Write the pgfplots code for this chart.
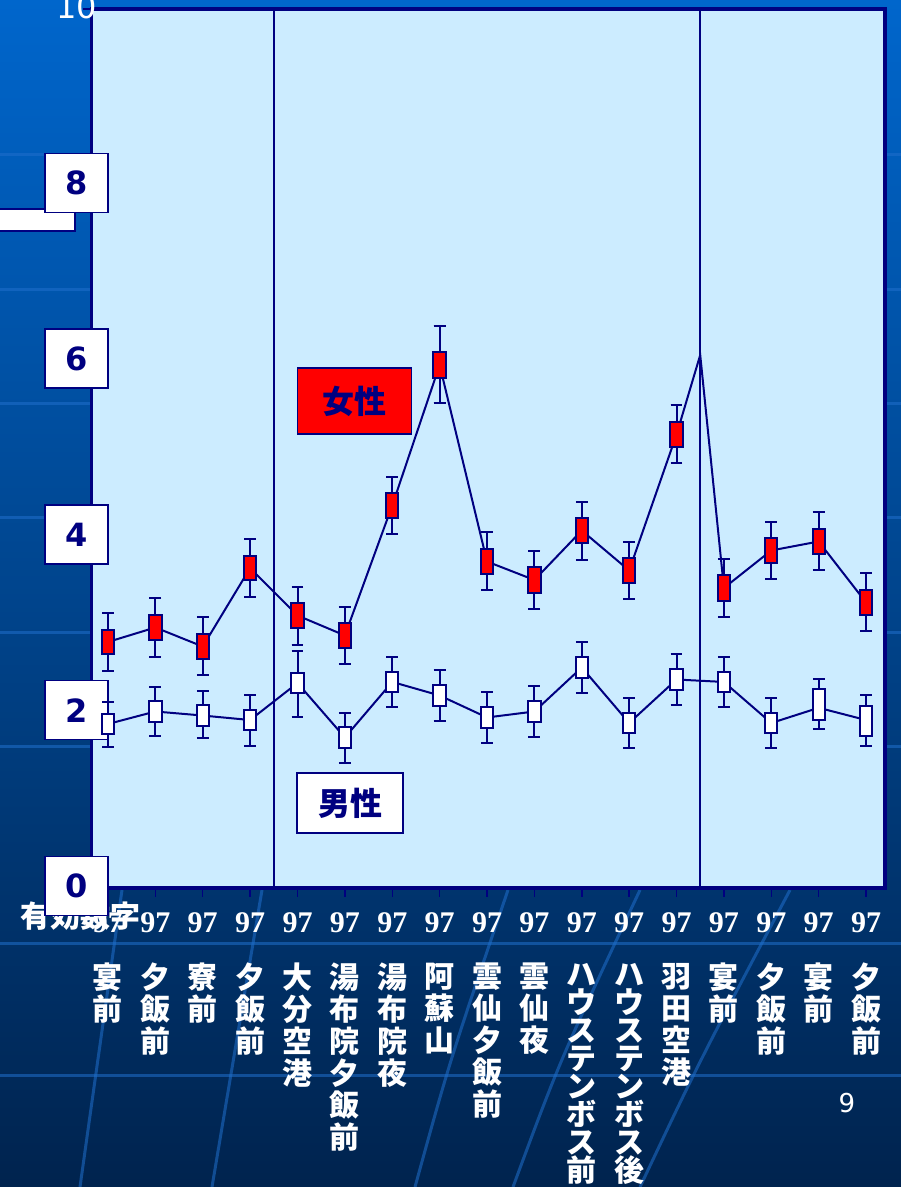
\documentclass[border=0pt]{standalone}
\usepackage{pgfplots}
\pgfplotsset{compat=1.18}
\usepgfplotslibrary{statistics}
\usepackage{fontspec}
\setmainfont{DejaVu Sans}
\newfontfamily\numfont{DejaVu Sans}
\newfontfamily\serfont{Liberation Serif}
\newfontfamily\cjk{Noto Sans CJK JP}
\definecolor{navy}{HTML}{000080}
\definecolor{plotbg}{HTML}{CCECFF}
\definecolor{bgtop}{HTML}{0066CC}
\definecolor{bgmid}{HTML}{004A98}
\definecolor{bgbot}{HTML}{00234E}
\definecolor{deco}{HTML}{1F6FCC}
% box macros: position, lower whisker, lower box, upper box, upper whisker
\newcommand{\fbx}[5]{\addplot[draw=navy, fill=red, line width=2pt,
  boxplot prepared={draw direction=y, draw position=#1, lower whisker=#2, lower quartile=#3,
  median=#4, upper quartile=#4, upper whisker=#5, box extend=0.26, whisker extend=0.25}] coordinates {};}
\newcommand{\mbx}[5]{\addplot[draw=navy, fill=white, line width=2pt,
  boxplot prepared={draw direction=y, draw position=#1, lower whisker=#2, lower quartile=#3,
  median=#4, upper quartile=#4, upper whisker=#5, box extend=0.26, whisker extend=0.25}] coordinates {};}
\begin{document}
\begin{tikzpicture}[x=1pt, y=1pt]
\useasboundingbox (0,0) rectangle (901,1187);
\clip (0,0) rectangle (901,1187);
\shade[top color=bgtop, middle color=bgmid, bottom color=bgbot] (0,0) rectangle (901,1187);
\begin{scope}[draw=deco, opacity=0.55, line width=3pt]
\foreach \yy in {155,290,404,518,633,747,944,1076} {\draw (0,1187-\yy) -- (901,1187-\yy);}
\draw (80,0) .. controls (95,107) .. (122,297);
\draw (212,0) .. controls (230,107) .. (262,297);
\draw (415,0) .. controls (450,127) .. (508,297);
\draw (513,0) .. controls (560,127) .. (640,297);
\draw (640,0) .. controls (700,127) .. (790,297);
\end{scope}
\node[text=white, font=\cjk\bfseries\fontsize{30}{30}\selectfont, anchor=west, inner sep=0pt] at (20,271) {有効数字};
\draw[navy, fill=white, line width=1.5pt] (-5,978) rectangle (75,956);
\begin{axis}[
  at={(91.5pt,299pt)}, anchor=south west,
  width=793.5pt, height=879pt, scale only axis,
  xmin=-0.348, xmax=16.40, ymin=0, ymax=10,
  axis line style={draw=navy, line width=3.5pt},
  axis background/.style={fill=plotbg},
  tick align=outside, major tick length=9pt,
  tick style={draw=navy, line width=1.5pt},
  xtick pos=bottom, ytick pos=left,
  xtick={0,1,2,3,4,5,6,7,8,9,10,11,12,13,14,15,16},
  xticklabels={97,97,97,97,97,97,97,97,97,97,97,97,97,97,97,97,97},
  xticklabel style={font=\serfont\bfseries\fontsize{30}{30}\selectfont, text=white, anchor=north, inner sep=0pt, yshift=-15pt},
  ytick={0,2,4,6,8},
  yticklabels={0,2,4,6,8},
  /pgf/number format/assume math mode=true,
  yticklabel style={draw=navy, line width=1.5pt, fill=white, minimum width=63pt, minimum height=59pt,
    inner sep=0pt, anchor=center, xshift=-6pt, yshift=2pt, text=navy,
    font=\numfont\bfseries\fontsize{32}{32}\selectfont},
  extra y ticks={10}, extra y tick labels={10},
  extra y tick style={yticklabel style={draw=none, fill=none, text=white, font=\numfont\fontsize{32}{32}\selectfont}},
  extra x ticks={0,1,2,3,4,5,6,7,8,9,10,11,12,13,14,15,16},
  extra x tick labels={{宴\\前},{夕\\飯\\前},{寮\\前},{夕\\飯\\前},{大\\分\\空\\港},{湯\\布\\院\\夕\\飯\\前},{湯\\布\\院\\夜},{阿\\蘇\\山},{雲\\仙\\夕\\飯\\前},{雲\\仙\\夜},{ハ\\[-4pt]ウ\\[-4pt]ス\\[-4pt]テ\\[-4pt]ン\\[-4pt]ボ\\[-4pt]ス\\[-4pt]前},{ハ\\[-4pt]ウ\\[-4pt]ス\\[-4pt]テ\\[-4pt]ン\\[-4pt]ボ\\[-4pt]ス\\[-4pt]後},{羽\\田\\空\\港},{宴\\前},{夕\\飯\\前},{宴\\前},{夕\\飯\\前}},
  extra x tick style={major tick length=0pt, xticklabel style={font=\cjk\bfseries\fontsize{30}{32}\selectfont, text=white, align=center, anchor=north, inner sep=0pt, yshift=-60pt}},
  clip=false,
]
% separator lines
\addplot[navy, line width=1.6pt] coordinates {(3.5,0) (3.5,10)};
\addplot[navy, line width=1.6pt] coordinates {(12.5,0) (12.5,10)};
% connecting lines
\addplot[navy, line width=2pt] coordinates {(0,2.799) (1,2.964) (2,2.747) (3,3.640) (4,3.100) (5,2.873) (6,4.352) (7,5.950) (8,3.714) (9,3.504) (10,4.067) (11,3.612) (12,5.159) (12.5,6.064) (13,3.413) (14,3.840) (15,3.942) (16,3.248)};
\addplot[navy, line width=2pt] coordinates {(0,1.866) (1,2.008) (2,1.962) (3,1.911) (4,2.332) (5,1.712) (6,2.344) (7,2.190) (8,1.940) (9,2.008) (10,2.509) (11,1.877) (12,2.372) (13,2.344) (14,1.877) (15,2.050) (16,1.911)};
% female boxes
\fbx{0}{2.469}{2.662}{2.935}{3.129}
\fbx{1}{2.628}{2.821}{3.106}{3.299}
\fbx{2}{2.423}{2.605}{2.890}{3.083}
\fbx{3}{3.311}{3.504}{3.777}{3.970}
\fbx{4}{2.765}{2.958}{3.242}{3.424}
\fbx{5}{2.548}{2.730}{3.015}{3.197}
\fbx{6}{4.027}{4.209}{4.494}{4.676}
\fbx{7}{5.518}{5.802}{6.098}{6.394}
\fbx{8}{3.390}{3.572}{3.857}{4.050}
\fbx{9}{3.174}{3.356}{3.652}{3.834}
\fbx{10}{3.731}{3.925}{4.209}{4.391}
\fbx{11}{3.288}{3.470}{3.754}{3.936}
\fbx{12}{4.835}{5.017}{5.301}{5.495}
\fbx{13}{3.083}{3.265}{3.561}{3.743}
\fbx{14}{3.515}{3.697}{3.982}{4.164}
\fbx{15}{3.618}{3.800}{4.084}{4.278}
\fbx{16}{2.924}{3.106}{3.390}{3.584}
% male boxes
\mbx{0}{1.604}{1.752}{1.980}{2.116}
\mbx{1}{1.729}{1.889}{2.127}{2.287}
\mbx{2}{1.706}{1.843}{2.082}{2.241}
\mbx{3}{1.615}{1.797}{2.025}{2.196}
\mbx{4}{1.945}{2.218}{2.446}{2.696}
\mbx{5}{1.422}{1.593}{1.832}{1.991}
\mbx{6}{2.059}{2.230}{2.457}{2.628}
\mbx{7}{1.900}{2.071}{2.309}{2.480}
\mbx{8}{1.650}{1.820}{2.059}{2.230}
\mbx{9}{1.718}{1.889}{2.127}{2.298}
\mbx{10}{2.218}{2.389}{2.628}{2.799}
\mbx{11}{1.593}{1.763}{1.991}{2.162}
\mbx{12}{2.082}{2.253}{2.491}{2.662}
\mbx{13}{2.059}{2.230}{2.457}{2.628}
\mbx{14}{1.593}{1.763}{1.991}{2.162}
\mbx{15}{1.809}{1.911}{2.264}{2.378}
\mbx{16}{1.615}{1.729}{2.071}{2.196}
\end{axis}
\node[draw=navy, line width=1.5pt, fill=red, minimum width=114pt, minimum height=66pt, inner sep=0pt,
  font=\cjk\bfseries\fontsize{32}{32}\selectfont, text=navy] at (354.5,786) {女性};
\node[draw=navy, line width=1.5pt, fill=white, minimum width=106pt, minimum height=60pt, inner sep=0pt,
  font=\cjk\bfseries\fontsize{32}{32}\selectfont, text=navy] at (350,384) {男性};
\node[text=white, font=\numfont\fontsize{26}{26}\selectfont] at (847,84) {9};
\end{tikzpicture}
\end{document}
